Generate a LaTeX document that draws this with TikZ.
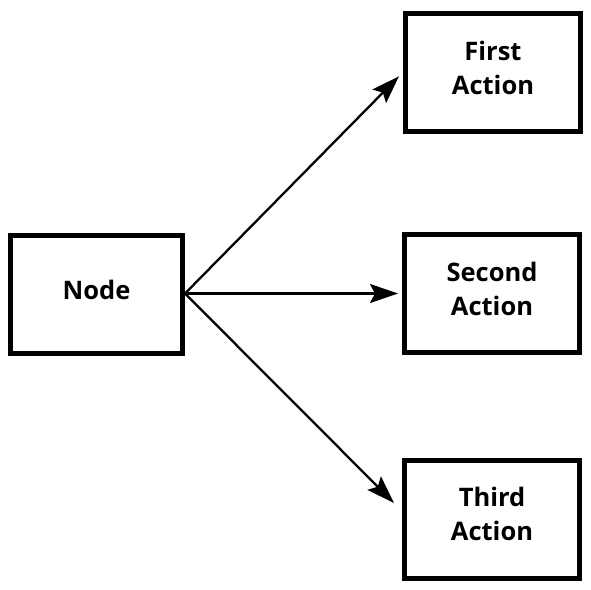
\documentclass[tikz,border=0pt]{standalone}
\usepackage{fontspec}
\setmainfont{Open Sans}
\usetikzlibrary{arrows.meta}
\begin{document}
\begin{tikzpicture}[x=1pt,y=-1pt,
  box/.style={draw=black, line width=5pt, fill=white, minimum width=175pt, minimum height=118pt,
    align=center, inner sep=0pt, text depth=10pt, font=\fontsize{25.5}{34}\selectfont\bfseries},
  conn/.style={line width=2.3pt, -{Stealth[length=28pt,width=19pt,inset=5pt]}}]
\useasboundingbox (0,0) rectangle (591,589);
\fill[white] (0,0) rectangle (591,589);
\node[box, minimum width=172pt] (n) at (96.5,294.5) {Node};
\node[box] (a1) at (493,72.75) {First\\Action};
\node[box] (a2) at (492,293.5) {Second\\Action};
\node[box] (a3) at (492,519) {Third\\Action};
\draw[conn] ([yshift=1pt]n.east) -- ([shift={(-4pt,-3.5pt)}]a1.west);
\draw[conn] ([yshift=1pt]n.east) -- ([shift={(-4pt,0pt)}]a2.west);
\draw[conn] ([yshift=1pt]n.east) -- ([shift={(-8pt,16pt)}]a3.west);
\end{tikzpicture}
\end{document}
